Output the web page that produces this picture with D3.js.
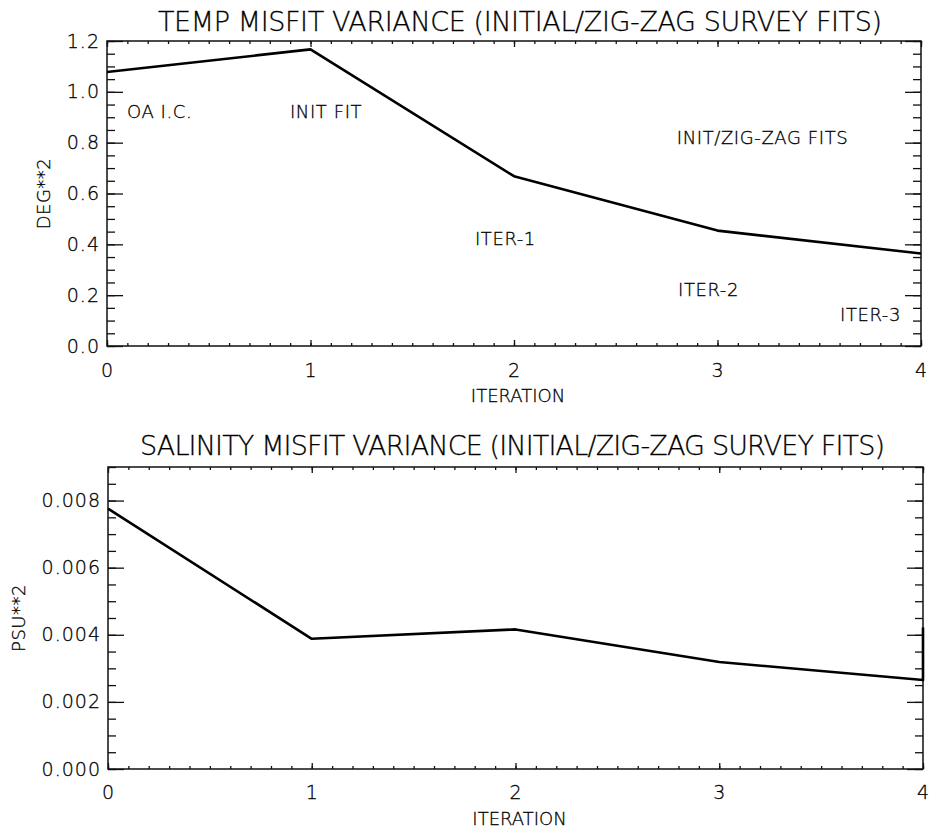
<!DOCTYPE html>
<html><head><meta charset="utf-8">
<script src="https://cdn.jsdelivr.net/npm/d3@7"></script>
<style>
body{margin:0;background:#fff}
svg text{font-family:"DejaVu Sans",sans-serif;fill:#000;font-weight:200;stroke:#000;stroke-width:0.3}
</style></head><body>
<svg id="c" width="934" height="829"></svg>
<script>
// ---- data ----
const iterations = [0, 1, 2, 3, 4];
const tempVariance = [1.078, 1.167, 0.668, 0.454, 0.364];
const salIterations = [0, 1, 2, 3, 4, 4];
const salVariance = [0.00776, 0.00388, 0.00416, 0.00319, 0.00265, 0.00422];
const xTicks = [0, 1, 2, 3, 4];
const tempTicks = [0, 0.2, 0.4, 0.6, 0.8, 1.0, 1.2];
const salTicks = [0, 0.002, 0.004, 0.006, 0.008];
const tempNoteText = ["OA I.C.", "INIT FIT", "INIT/ZIG-ZAG FITS", "ITER-1", "ITER-2", "ITER-3"];
const tempNoteX = [0.098, 0.899, 2.80, 1.808, 2.806, 3.602];
const tempNoteY = [0.897, 0.897, 0.795, 0.397, 0.197, 0.098];
const titles = ["TEMP MISFIT VARIANCE (INITIAL/ZIG-ZAG SURVEY FITS)", "SALINITY MISFIT VARIANCE (INITIAL/ZIG-ZAG SURVEY FITS)"];
const yTitles = ["DEG**2", "PSU**2"];
const xTitle = "ITERATION";

const svg = d3.select("#c");
const ink = "#111";

function panel(o) {
  const g = svg.append("g");
  const x = d3.scaleLinear().domain([0, 4]).range([o.x0, o.x1]);
  const y = d3.scaleLinear().domain([0, o.ymax]).range([o.y0, o.y1]);
  const xMinor = d3.range(0, 41).map(d => d / 10);
  const yMinor = d3.range(0, Math.round(o.ymax / o.minor) + 1).map(d => d * o.minor);

  const add = (axis, tr) => {
    const a = g.append("g").attr("transform", tr).call(axis);
    a.select(".domain").remove();
    a.selectAll("line").attr("stroke", ink).attr("stroke-width", 1.3);
    a.selectAll("text").attr("font-size", 19).attr("fill", "#000").attr("letter-spacing", 1);
    return a;
  };
  // bottom
  add(d3.axisBottom(x).tickValues(xMinor).tickSize(-3).tickFormat(""), `translate(0,${o.y0})`);
  add(d3.axisBottom(x).tickValues(xTicks).tickSize(-6).tickPadding(o.xpad).tickFormat(d3.format("d")), `translate(0,${o.y0})`);
  // top
  add(d3.axisTop(x).tickValues(xMinor).tickSize(-3).tickFormat(""), `translate(0,${o.y1})`);
  add(d3.axisTop(x).tickValues(xTicks).tickSize(-6).tickFormat(""), `translate(0,${o.y1})`);
  // left
  add(d3.axisLeft(y).tickValues(yMinor).tickSize(-8).tickFormat(""), `translate(${o.x0},0)`);
  add(d3.axisLeft(y).tickValues(o.ticks).tickSize(-16).tickPadding(7).tickFormat(d3.format(o.fmt)), `translate(${o.x0},0)`);
  // right
  add(d3.axisRight(y).tickValues(yMinor).tickSize(-8).tickFormat(""), `translate(${o.x1},0)`);
  add(d3.axisRight(y).tickValues(o.ticks).tickSize(-16).tickFormat(""), `translate(${o.x1},0)`);

  g.append("rect").attr("x", o.x0).attr("y", o.y1).attr("width", o.x1 - o.x0).attr("height", o.y0 - o.y1)
    .attr("fill", "none").attr("stroke", ink).attr("stroke-width", 1.5);

  const line = d3.line().x(d => x(d[0])).y(d => y(d[1]));
  g.append("path").datum(o.xs.map((d, i) => [d, o.ys[i]]))
    .attr("d", line).attr("fill", "none").attr("stroke", "#000").attr("stroke-width", 2.6)
    .attr("stroke-linejoin", "round");

  g.append("text").attr("x", o.titleX).attr("y", o.titleY).attr("font-size", 27)
    .attr("textLength", o.titleW).attr("lengthAdjust", "spacing").text(o.title);
  g.append("text").attr("x", (o.x0 + o.x1) / 2 + 4).attr("y", o.xtY).attr("font-size", 18)
    .attr("text-anchor", "middle").text(xTitle);
  g.append("text").attr("transform", `translate(${o.ytX},${(o.y0 + o.y1) / 2}) rotate(-90)`)
    .attr("font-size", 18).attr("text-anchor", "middle").attr("letter-spacing", 0.5).text(o.ytitle);

  if (o.notes) {
    o.notes.forEach((t, i) => {
      g.append("text").attr("x", x(o.nx[i])).attr("y", y(o.ny[i])).attr("font-size", 18)
        .attr("letter-spacing", 0.6).text(t);
    });
  }
}

panel({x0: 107, x1: 921, y0: 346, y1: 41, ymax: 1.2, minor: 0.05, ticks: tempTicks, fmt: ".1f",
  xs: iterations, ys: tempVariance, xpad: 18, title: titles[0], titleX: 158, titleY: 31, titleW: 724,
  xtY: 402, ytX: 50, ytitle: yTitles[0], notes: tempNoteText, nx: tempNoteX, ny: tempNoteY});

panel({x0: 108, x1: 923, y0: 769, y1: 467, ymax: 0.009, minor: 0.0005, ticks: salTicks, fmt: ".3f",
  xs: salIterations, ys: salVariance, xpad: 17, title: titles[1], titleX: 140, titleY: 455, titleW: 745,
  xtY: 825, ytX: 25, ytitle: yTitles[1]});
</script>
</body></html>
